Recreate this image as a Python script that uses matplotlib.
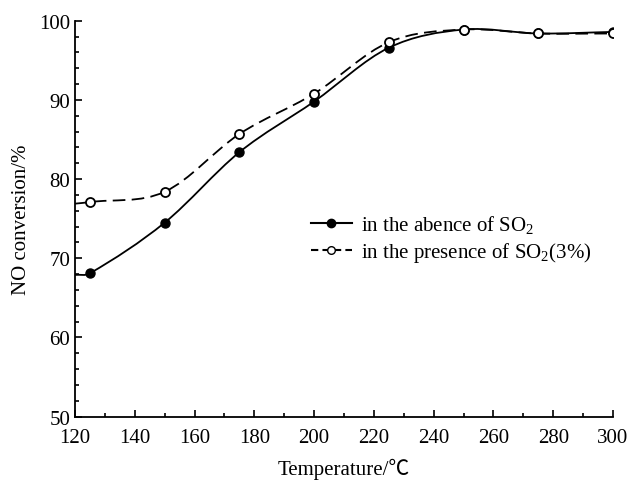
import numpy as np
import matplotlib
matplotlib.use('Agg')
import matplotlib.pyplot as plt
from matplotlib.path import Path
from matplotlib.patches import PathPatch
from matplotlib.lines import Line2D
from matplotlib.ticker import MultipleLocator

plt.rcParams['font.family'] = ['Liberation Serif', 'Noto Sans CJK SC', 'DejaVu Serif']
plt.rcParams['mathtext.fontset'] = 'custom'
plt.rcParams['mathtext.rm'] = 'Liberation Serif'

# measured points
temps = [125, 150, 175, 200, 225, 250, 275, 300]
no_so2 = [68.1, 74.5, 83.4, 89.8, 96.6, 98.9, 98.4, 98.6]
with_so2 = [77.1, 78.4, 85.7, 90.8, 97.3, 98.9, 98.4, 98.4]

# where the drawn curves meet the y axis
curve_start_x = 120
no_so2_start = 67.9
with_so2_start = 76.9

labels = ['in the abence of SO$_2$', 'in the presence of SO$_2$(3%)']


def smooth_path(xs, ys):
    # cubic Hermite through the points, as Bezier segments (no overshoot in x)
    xs = np.asarray(xs, float)
    ys = np.asarray(ys, float)
    n = len(xs)
    m = np.zeros(n)
    m[0] = (ys[1] - ys[0]) / (xs[1] - xs[0])
    m[-1] = (ys[-1] - ys[-2]) / (xs[-1] - xs[-2])
    for i in range(1, n - 1):
        m[i] = (ys[i + 1] - ys[i - 1]) / (xs[i + 1] - xs[i - 1])
    verts = [(xs[0], ys[0])]
    codes = [Path.MOVETO]
    for i in range(n - 1):
        h = xs[i + 1] - xs[i]
        verts += [(xs[i] + h / 3, ys[i] + m[i] * h / 3),
                  (xs[i + 1] - h / 3, ys[i + 1] - m[i + 1] * h / 3),
                  (xs[i + 1], ys[i + 1])]
        codes += [Path.CURVE4] * 3
    return Path(verts, codes)


fig = plt.figure(figsize=(6.3, 4.85), dpi=100)
ax = fig.add_axes([0.119, 0.139, 0.854, 0.816])

p1 = smooth_path([curve_start_x] + temps, [no_so2_start] + no_so2)
p2 = smooth_path([curve_start_x] + temps, [with_so2_start] + with_so2)
ax.add_patch(PathPatch(p1, fill=False, ec='black', lw=1.3, zorder=2))
ax.add_patch(PathPatch(p2, fill=False, ec='black', lw=1.3, ls=(0, (7, 3.5)), zorder=2))

ax.plot(temps, no_so2, 'o', ms=6.5, mfc='black', mec='black', zorder=3)
ax.plot(temps, with_so2, 'o', ms=6.5, mfc='white', mec='black', mew=1.3, zorder=3)

ax.set_xlim(120, 300)
ax.set_ylim(50, 100)
ax.xaxis.set_major_locator(MultipleLocator(20))
ax.xaxis.set_minor_locator(MultipleLocator(10))
ax.yaxis.set_major_locator(MultipleLocator(10))
ax.yaxis.set_minor_locator(MultipleLocator(2))
ax.tick_params(which='both', direction='in', top=False, right=False, labelsize=15, width=1.2)
ax.tick_params(which='major', length=5)
ax.tick_params(which='minor', length=3)
ax.tick_params(axis='x', pad=8)
ax.spines['top'].set_visible(False)
ax.spines['right'].set_visible(False)
ax.spines['left'].set_linewidth(1.3)
ax.spines['bottom'].set_linewidth(1.3)

ax.set_xlabel('Temperature/℃', fontsize=15, labelpad=8)
ax.set_ylabel('NO conversion/%', fontsize=15, labelpad=6)

handles = [
    Line2D([], [], color='black', lw=1.5, marker='o', ms=6, mfc='black'),
    Line2D([], [], color='black', lw=1.5, ls=(0, (3.5, 2)), marker='o', ms=5.5, mfc='white'),
]
ax.legend(handles, labels, loc='center left', bbox_to_anchor=(0.403, 0.449),
          frameon=False, fontsize=15, handlelength=2.0, handletextpad=0.4,
          labelspacing=0.2)

fig.savefig('out.png', dpi=100)
